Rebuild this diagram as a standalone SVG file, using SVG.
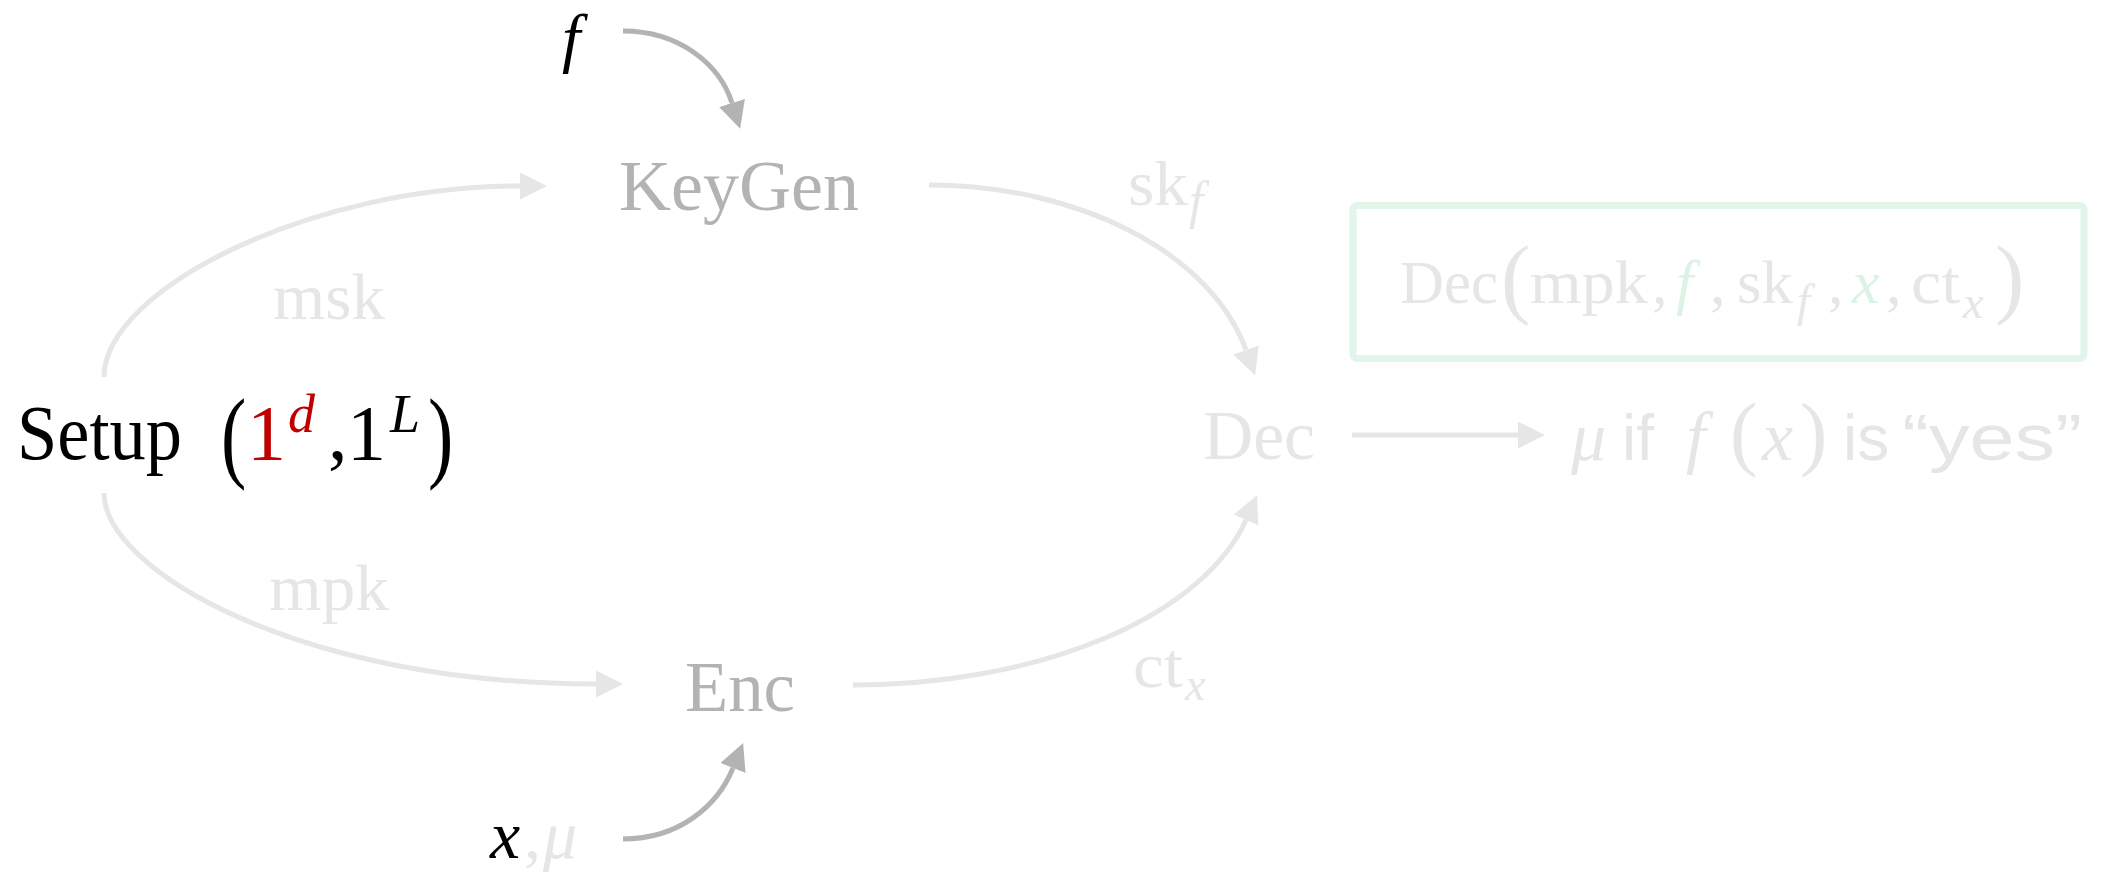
<svg xmlns="http://www.w3.org/2000/svg" width="2115" height="873" viewBox="0 0 2115 873">
  <style>
    text { font-family: "Liberation Serif", "Times New Roman", serif; }
    .it { font-style: italic; }
    .sans { font-family: "Liberation Sans", Arial, sans-serif; }
    .blk { fill: #000000; }
    .red { fill: #C00000; }
    .mid { fill: #B3B3B3; }
    .lt { fill: #E6E6E6; }
    .grn { fill: #DCF2E4; }
    .edge { fill: none; stroke-width: 5; }
    .edge-lt { stroke: #E6E6E6; }
    .edge-mid { stroke: #B3B3B3; }
  </style>
  <defs>
    <marker id="head-lt" markerUnits="userSpaceOnUse" viewBox="0 0 27 27" refX="0" refY="13.5" markerWidth="27" markerHeight="27" orient="auto">
      <path d="M0,0 L27,13.5 L0,27 z" fill="#E6E6E6"/>
    </marker>
    <marker id="head-mid" markerUnits="userSpaceOnUse" viewBox="0 0 27 27" refX="0" refY="13.5" markerWidth="27" markerHeight="27" orient="auto">
      <path d="M0,0 L27,13.5 L0,27 z" fill="#B3B3B3"/>
    </marker>
  </defs>

  <rect width="2115" height="873" fill="#FFFFFF"/>

  <!-- connectors -->
  <g id="connectors">
    <path class="edge edge-lt" d="M104,377 C104,290 310,186 520,186" marker-end="url(#head-lt)"/>
    <path class="edge edge-lt" d="M104,493 C104,570 300,684 596,684" marker-end="url(#head-lt)"/>
    <path class="edge edge-lt" d="M929,185 A326,215 0 0 1 1246,350" marker-end="url(#head-lt)"/>
    <path class="edge edge-lt" d="M853,685 A404,215 0 0 0 1246,520" marker-end="url(#head-lt)"/>
    <path class="edge edge-lt" d="M1352,435 H1518" marker-end="url(#head-lt)"/>
    <path class="edge edge-mid" d="M623,31 C680,31 720,65 732,103" marker-end="url(#head-mid)"/>
    <path class="edge edge-mid" d="M623,839 C680,839 718,805 733,768" marker-end="url(#head-mid)"/>
    <text class="lt" x="273" y="319" font-size="66" textLength="112" lengthAdjust="spacingAndGlyphs">msk</text>
    <text class="lt" x="269" y="610" font-size="66" textLength="120" lengthAdjust="spacingAndGlyphs">mpk</text>
    <text class="lt" x="1128" y="205" font-size="64" textLength="60" lengthAdjust="spacingAndGlyphs">sk</text>
    <text class="lt it" x="1189" y="218" font-size="52">f</text>
    <text class="lt" x="1133" y="687" font-size="64" textLength="50" lengthAdjust="spacingAndGlyphs">ct</text>
    <text class="lt it" x="1185" y="700" font-size="46">x</text>
  </g>

  <!-- Setup(1^d, 1^L) -->
  <g id="setup">
    <text class="blk" x="17" y="459" font-size="78" textLength="165" lengthAdjust="spacingAndGlyphs">Setup</text>
    <text class="blk" font-size="76" transform="translate(221,469) scale(1,1.35)">(</text>
    <text class="blk" font-size="78"><tspan class="red" x="247" y="459">1</tspan><tspan class="red it" x="288" y="432" font-size="54">d</tspan><tspan x="328" y="459">,</tspan><tspan x="347" y="459">1</tspan><tspan class="it" x="390" y="432" font-size="54">L</tspan></text>
    <text class="blk" font-size="76" transform="translate(428,469) scale(1,1.35)">)</text>
  </g>

  <!-- input f -->
  <g id="input-f">
    <text class="blk it" x="562" y="60" font-size="66">f</text>
  </g>

  <g id="keygen">
    <text class="mid" x="619" y="210" font-size="72" textLength="240" lengthAdjust="spacingAndGlyphs">KeyGen</text>
  </g>

  <g id="enc">
    <text class="mid" x="685" y="711" font-size="72" textLength="110" lengthAdjust="spacingAndGlyphs">Enc</text>
  </g>

  <!-- inputs x, mu -->
  <g id="input-x">
    <text class="blk it" x="490" y="858" font-size="68">x</text>
    <text class="lt" x="524" y="858" font-size="68">,</text>
    <text class="lt it" x="543" y="858" font-size="68">μ</text>
  </g>

  <g id="dec">
    <text class="lt" x="1203" y="459" font-size="70" textLength="112" lengthAdjust="spacingAndGlyphs">Dec</text>
  </g>

  <!-- output -->
  <g id="output">
    <text class="lt it" x="1571" y="460" font-size="70">μ</text>
    <text class="lt sans" x="1622" y="460" font-size="64">if</text>
    <text class="lt it" x="1686" y="460" font-size="70">f</text>
    <text class="lt" x="1730" y="460" font-size="82">(</text>
    <text class="lt it" x="1762" y="460" font-size="70">x</text>
    <text class="lt" x="1800" y="460" font-size="82">)</text>
    <text class="lt sans" x="1843" y="460" font-size="64">is</text>
    <text class="lt sans" x="1902" y="460" font-size="64" textLength="180" lengthAdjust="spacingAndGlyphs">“yes”</text>
  </g>

  <!-- decryption formula box -->
  <g id="dec-formula">
    <rect x="1353" y="205.5" width="731" height="153" rx="4" fill="none" stroke="#E2F5EA" stroke-width="7"/>
    <text class="lt" x="1400" y="303" font-size="62" textLength="98" lengthAdjust="spacingAndGlyphs">Dec</text>
    <text class="lt" x="1501" y="307" font-size="88">(</text>
    <text class="lt" x="1530" y="303" font-size="62" textLength="118" lengthAdjust="spacingAndGlyphs">mpk</text>
    <text class="lt" x="1652" y="303" font-size="62">,</text>
    <text class="grn it" x="1676" y="303" font-size="62">f</text>
    <text class="lt" x="1710" y="303" font-size="62">,</text>
    <text class="lt" x="1737" y="303" font-size="62" textLength="56" lengthAdjust="spacingAndGlyphs">sk</text>
    <text class="lt it" x="1797" y="316" font-size="46">f</text>
    <text class="lt" x="1828" y="303" font-size="62">,</text>
    <text class="grn it" x="1852" y="303" font-size="62">x</text>
    <text class="lt" x="1886" y="303" font-size="62">,</text>
    <text class="lt" x="1911" y="303" font-size="62" textLength="49" lengthAdjust="spacingAndGlyphs">ct</text>
    <text class="lt it" x="1963" y="318" font-size="46">x</text>
    <text class="lt" x="1995" y="307" font-size="88">)</text>
  </g>
</svg>
